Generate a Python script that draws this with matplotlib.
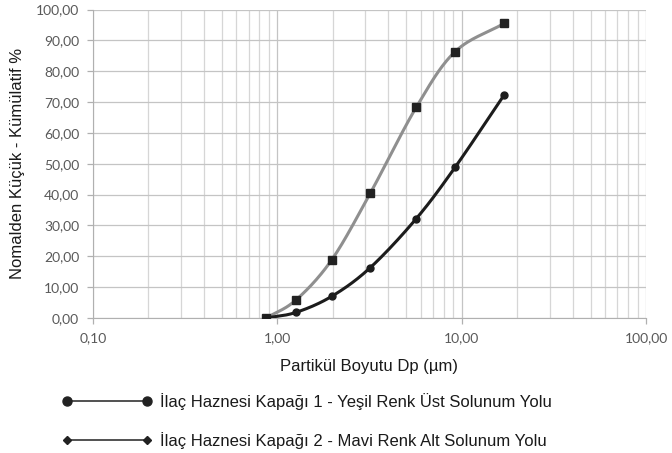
import numpy as np
import matplotlib
matplotlib.use("Agg")
import matplotlib.pyplot as plt
from matplotlib.lines import Line2D
from matplotlib.ticker import FixedLocator, FuncFormatter, NullFormatter

# Data
size_um = [0.87, 1.26, 1.97, 3.19, 5.67, 9.2, 17.0]
series_gray = [0.0, 5.8, 18.8, 40.4, 68.3, 86.3, 95.5]
series_black = [0.0, 1.8, 7.0, 16.3, 32.2, 48.8, 72.3]
legend_labels = ["İlaç Haznesi Kapağı 1 - Yeşil Renk Üst Solunum Yolu",
                 "İlaç Haznesi Kapağı 2 - Mavi Renk Alt Solunum Yolu"]
x_ticks = [0.1, 1, 10, 100]
y_ticks = list(range(0, 101, 10))


def smooth(xs, ys, n=30):
    # Catmull-Rom style smoothing in (log10 x, y) space, like Excel smoothed lines
    lx = np.log10(np.asarray(xs, float))
    y = np.asarray(ys, float)
    P = np.column_stack([lx, y])
    P = np.vstack([P[0] - (P[1] - P[0]), P, P[-1] + (P[-1] - P[-2])])
    out = []
    for i in range(1, len(P) - 2):
        p0, p1, p2, p3 = P[i - 1], P[i], P[i + 1], P[i + 2]
        c1 = p1 + (p2 - p0) / 6.0
        c2 = p2 - (p3 - p1) / 6.0
        t = np.linspace(0, 1, n)[:, None]
        seg = ((1 - t) ** 3) * p1 + 3 * ((1 - t) ** 2) * t * c1 + 3 * (1 - t) * t ** 2 * c2 + t ** 3 * p2
        out.append(seg if i == 1 else seg[1:])
    out = np.vstack(out)
    return 10 ** out[:, 0], out[:, 1]


fig = plt.figure(figsize=(6.72, 4.53), dpi=100)
ax = fig.add_axes([93 / 672, 1 - 318 / 453, (646 - 93) / 672, (318 - 9.5) / 453])

ax.set_xscale("log")
ax.set_xlim(0.1, 100)
ax.set_ylim(0, 100)

# grid
minor = [m * 10.0 ** e for e in range(-1, 2) for m in range(2, 10)]
ax.xaxis.set_major_locator(FixedLocator(x_ticks))
ax.xaxis.set_minor_locator(FixedLocator(minor))
ax.xaxis.set_minor_formatter(NullFormatter())
ax.yaxis.set_major_locator(FixedLocator(y_ticks))
ax.grid(which="major", axis="both", color="#c4c4c4", lw=0.9)
ax.grid(which="minor", axis="x", color="#d6d6d6", lw=0.9)
ax.set_axisbelow(True)

for s in ["top", "right"]:
    ax.spines[s].set_visible(False)
ax.spines["left"].set_color("#b0b0b0")
ax.spines["bottom"].set_color("#b0b0b0")

fmt = FuncFormatter(lambda v, p: f"{v:.2f}".replace(".", ","))
ax.xaxis.set_major_formatter(fmt)
ax.yaxis.set_major_formatter(fmt)
ax.tick_params(axis="both", which="major", color="#b0b0b0", length=4, width=0.9,
               labelcolor="#595959", labelsize=10)
ax.tick_params(axis="x", which="minor", length=0)
for lab in ax.get_xticklabels() + ax.get_yticklabels():
    lab.set_fontfamily("Lato")
ax.tick_params(axis="x", pad=6)
ax.tick_params(axis="y", pad=6)

gx, gy = smooth(size_um, series_gray)
ax.plot(gx, gy, color="#8f8f8f", lw=2.2, solid_capstyle="round", zorder=3)
ax.plot(size_um, series_gray, ls="none", marker="s", ms=5.5, color="#222222", zorder=4)

bx, by = smooth(size_um, series_black)
ax.plot(bx, by, color="#1c1c1c", lw=2.2, solid_capstyle="round", zorder=3)
ax.plot(size_um, series_black, ls="none", marker="o", ms=5, color="#1c1c1c", zorder=5)

ax.set_xlabel("Partikül Boyutu Dp (µm)", fontfamily="Liberation Sans", fontsize=12,
              color="#1a1a1a", labelpad=11)
ax.set_ylabel("Nomalden Küçük - Kümülatif %", fontfamily="Liberation Sans", fontsize=12,
              color="#1a1a1a", labelpad=8)

handles = [Line2D([0], [0], color="#333333", lw=1.2, marker="o", ms=6.5,
                  markerfacecolor="#222222", markeredgecolor="#222222"),
           Line2D([0], [0], color="#333333", lw=1.2, marker="D", ms=4,
                  markerfacecolor="#222222", markeredgecolor="#222222")]
leg = fig.legend(handles, legend_labels, loc="upper left", bbox_to_anchor=(55 / 672, 1 - 386 / 453),
                 frameon=False, numpoints=2, handlelength=5.4, handletextpad=0.5, labelspacing=1.35,
                 borderaxespad=0, prop={"family": "Liberation Sans", "size": 12})
for t in leg.get_texts():
    t.set_color("#1a1a1a")

fig.savefig("out.png", dpi=100)
